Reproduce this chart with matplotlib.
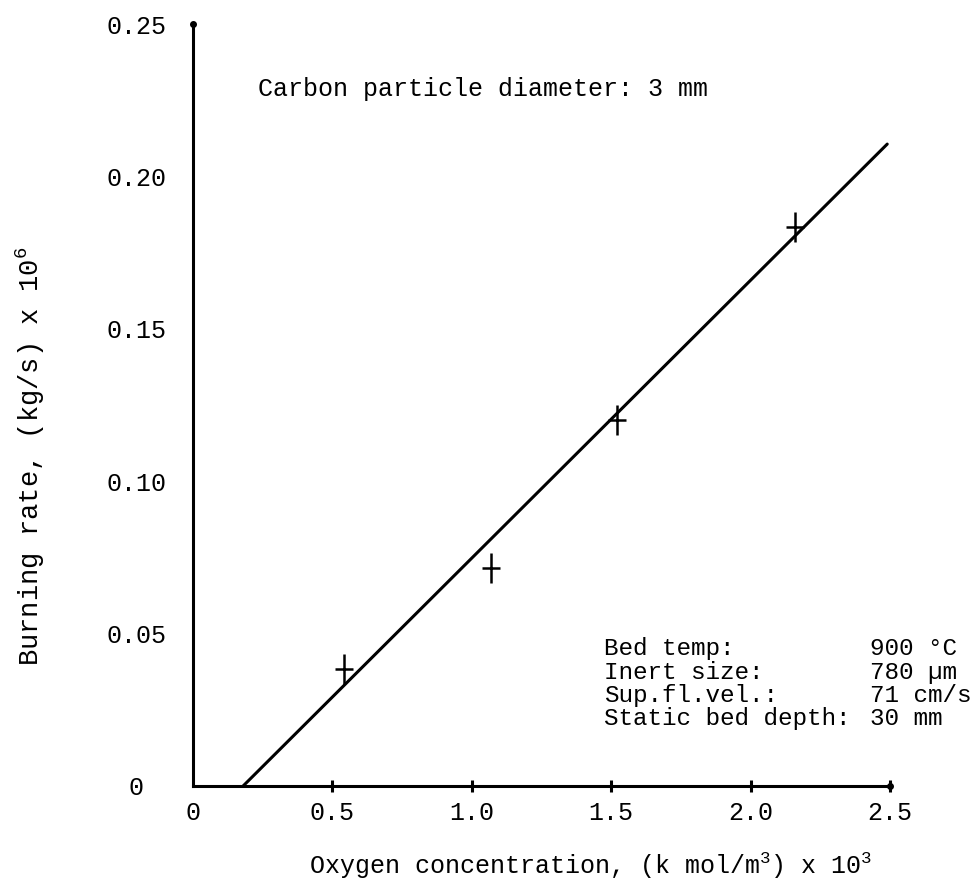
import numpy as np
import matplotlib
matplotlib.use("Agg")
import matplotlib.pyplot as plt
from matplotlib.path import Path

plt.rcParams['font.family'] = ['Liberation Mono', 'DejaVu Sans Mono']
plt.rcParams['mathtext.fontset'] = 'custom'
plt.rcParams['mathtext.rm'] = 'Liberation Mono'

# measured points (oxygen conc. x 10^3, burning rate x 10^6)
oxygen = [0.54, 1.07, 1.52, 2.16]
rate = [0.0384, 0.0715, 0.120, 0.1834]

# fitted straight line, end points
fit_x = [0.18, 2.49]
fit_y = [0.0, 0.2106]

xticks = [0, 0.5, 1.0, 1.5, 2.0, 2.5]
xticklabels = ['0', '0.5', '1.0', '1.5', '2.0', '2.5']
yticks = [0, 0.05, 0.10, 0.15, 0.20, 0.25]
yticklabels = ['0', '0.05', '0.10', '0.15', '0.20', '0.25']

cond_names = ['Bed temp:', 'Inert size:', 'Sup.fl.vel.:', 'Static bed depth:']
cond_values = ['900 °C', '780 µm', '71 cm/s', '30 mm']

# cross marker, taller than wide
cross = Path([(-0.6, 0), (0.6, 0), (0, -1), (0, 1)],
             [Path.MOVETO, Path.LINETO, Path.MOVETO, Path.LINETO])

fs = 18

fig = plt.figure(figsize=(9.76, 8.89), dpi=100)
ax = fig.add_axes([0.1977, 0.1159, 0.7142, 0.8571])

ax.plot(fit_x, fit_y, color='black', lw=2.2, solid_capstyle='round')
ax.plot(oxygen, rate, linestyle='none', marker=cross, markersize=22,
        markeredgewidth=1.8, color='black')

ax.set_xlim(0, 2.5)
ax.set_ylim(0, 0.25)
for s in ['top', 'right']:
    ax.spines[s].set_visible(False)
for s in ['left', 'bottom']:
    ax.spines[s].set_linewidth(2.2)

# small dots at the axis ends
ax.plot([2.5, 0], [0, 0.25], linestyle='none', marker='o', markersize=4,
        color='black', clip_on=False)

ax.set_xticks(xticks)
ax.set_xticklabels(xticklabels)
ax.set_yticks(yticks)
ax.set_yticklabels(yticklabels)
ax.tick_params(axis='x', direction='inout', length=9, width=2.2,
               labelsize=fs, pad=6)
ax.tick_params(axis='y', length=0, labelsize=fs, pad=41)
for lab in ax.get_yticklabels():
    lab.set_horizontalalignment('center')
ax.get_xticklines()[0].set_visible(False)
ax.get_xticklines()[1].set_visible(False)

ax.set_xlabel('Oxygen concentration, (k mol/m$^3$) x 10$^3$', fontsize=fs)
ax.xaxis.set_label_coords(0.570, -0.085)
ax.set_ylabel('Burning rate, (kg/s) x 10$^6$', fontsize=19.5)
ax.yaxis.set_label_coords(-0.21, 0.432)

ax.text(0.233, 0.2287, 'Carbon particle diameter: 3 mm', fontsize=fs,
        va='center', ha='left')

ax.text(1.475, 0.0488, '\n'.join(cond_names), fontsize=17.5, va='top',
        ha='left', linespacing=1.02, clip_on=False)
ax.text(2.43, 0.0488, '\n'.join(cond_values), fontsize=17.5, va='top',
        ha='left', linespacing=1.02, clip_on=False)

fig.savefig('out.png', dpi=100)
